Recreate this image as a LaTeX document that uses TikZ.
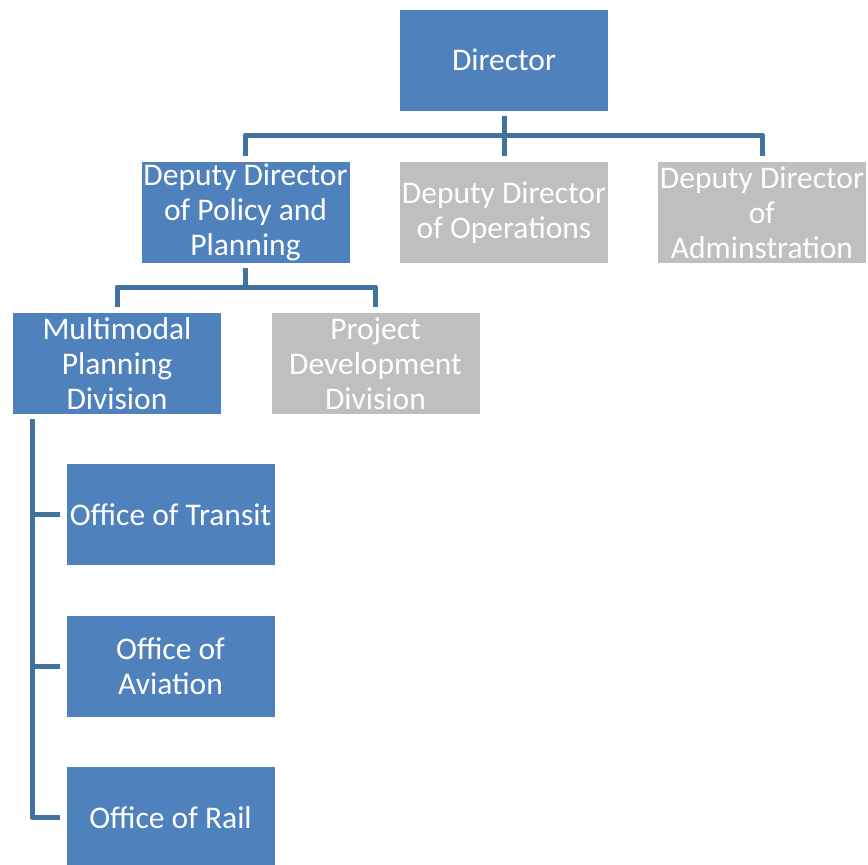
\documentclass[tikz,border=0pt]{standalone}
\usepackage{fontspec}
\setmainfont{Carlito}
\definecolor{boxblue}{HTML}{4F81BD}
\definecolor{boxgray}{HTML}{BFBFBF}
\definecolor{linkblue}{HTML}{41719C}
\begin{document}
\begin{tikzpicture}[x=1pt,y=-1pt,
  orgbox/.style={minimum width=208pt,minimum height=101pt,inner sep=0pt,align=center,
    text=white,font=\fontsize{31.5}{35}\selectfont},
  bluebox/.style={orgbox,fill=boxblue},
  graybox/.style={orgbox,fill=boxgray},
  conn/.style={draw=linkblue,line width=5pt,line join=round}]
\useasboundingbox (0,0) rectangle (868,865);
\clip (0,0) rectangle (868,865);
\node[bluebox] (dir) at (504,60) {Director};
\node[bluebox] (pol) at (245.5,212.5) {Deputy Director\\of Policy and\\Planning};
\node[graybox] (ops) at (504,212.5) {Deputy Director\\of Operations};
\node[graybox] (adm) at (762,212.5) {Deputy Director\\of\\Adminstration};
\node[bluebox] (mpd) at (117,363.5) {Multimodal\\Planning\\Division};
\node[graybox] (pdd) at (375.5,363.5) {Project\\Development\\Division};
\node[bluebox] (tra) at (170.5,514.5) {Office of Transit};
\node[bluebox] (avi) at (170.5,666) {Office of\\Aviation};
\node[bluebox] (rai) at (170.5,817.5) {Office of Rail};
\coordinate (j1) at (504,135);
\coordinate (j2) at (245.5,287);
\coordinate (vtop) at (32,419);
\draw[conn] ([yshift=-5pt]dir.south) -- ([yshift=6pt]ops.north);
\draw[conn] ([yshift=6pt]pol.north) |- (j1) -| ([yshift=6pt]adm.north);
\draw[conn] ([yshift=-5pt]pol.south) -- (j2);
\draw[conn] ([yshift=6pt]mpd.north) |- (j2) -| ([yshift=6pt]pdd.north);
\draw[conn] (vtop) |- ([xshift=-6pt]rai.west);
\draw[conn] (vtop |- tra.west) -- ([xshift=-6pt]tra.west);
\draw[conn] (vtop |- avi.west) -- ([xshift=-6pt]avi.west);
\end{tikzpicture}
\end{document}
